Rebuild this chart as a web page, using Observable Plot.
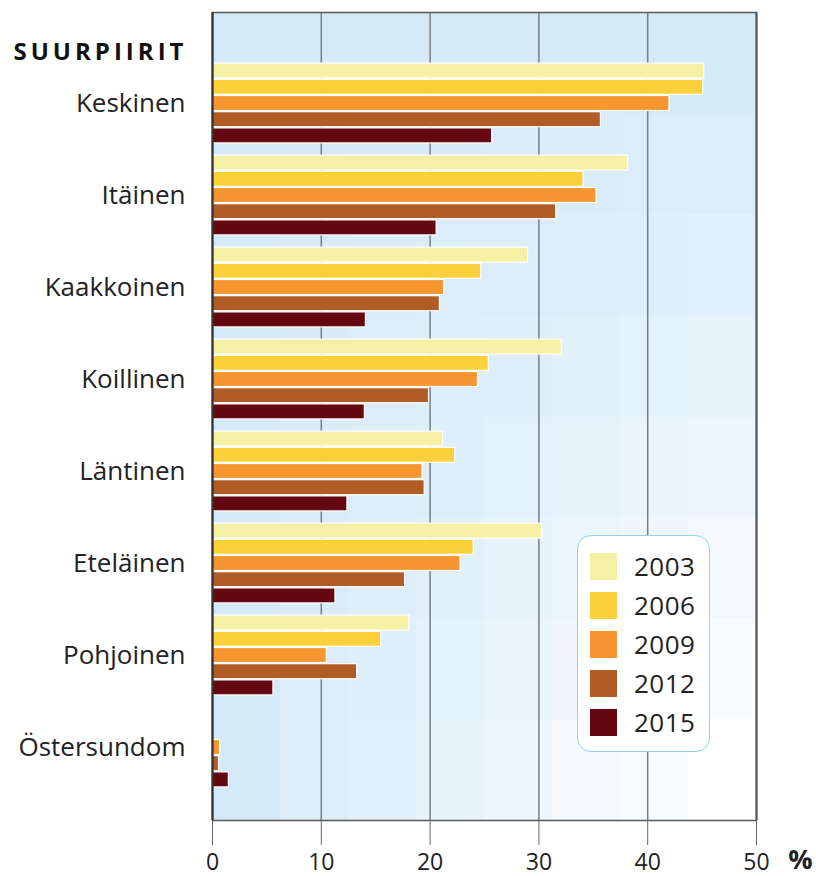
<!DOCTYPE html>
<html>
<head>
<meta charset="utf-8">
<script src="https://cdn.jsdelivr.net/npm/d3@7"></script>
<script src="https://cdn.jsdelivr.net/npm/@observablehq/plot@0.6"></script>
<style>
  html, body { margin: 0; padding: 0; background: #fff; }
  #wrap { position: relative; width: 816px; height: 876px; font-family: "Open Sans", sans-serif; }
  #legend { position: absolute; left: 577px; top: 535px; width: 131px; height: 215px;
    border: 1.5px solid #8fd4ec; border-radius: 14px; background: #fff; }
  .li { position: absolute; left: 12px; height: 28px; }
  .sw { position: absolute; left: 0; top: 0; width: 27px; height: 27px; }
  .lt { position: absolute; left: 44px; top: -3px; font-size: 26px; letter-spacing: 0.5px; color: #222; line-height: 32px; white-space: nowrap; }
</style>
</head>
<body>
<div id="wrap"></div>
<script>
// ---- data ----
const districts = ["Keskinen", "Itäinen", "Kaakkoinen", "Koillinen", "Läntinen", "Eteläinen", "Pohjoinen", "Östersundom"];
const years = ["2003", "2006", "2009", "2012", "2015"];
const v2003 = [45.2, 38.2, 29.0, 32.1, 21.2, 30.3, 18.1, null];
const v2006 = [45.1, 34.1, 24.7, 25.4, 22.3, 24.0, 15.5, null];
const v2009 = [42.0, 35.3, 21.3, 24.4, 19.3, 22.8, 10.5, 0.7];
const v2012 = [35.7, 31.6, 20.9, 19.9, 19.5, 17.7, 13.3, 0.6];
const v2015 = [25.7, 20.6, 14.1, 14.0, 12.4, 11.3, 5.6, 1.5];
const xTicks = [0, 10, 20, 30, 40, 50];
const colors = ["#f5f0a3", "#fad13a", "#f79530", "#b05c24", "#640710"];

const series = [v2003, v2006, v2009, v2012, v2015];
const rows = [];
series.forEach((vals, i) => vals.forEach((v, j) => {
  if (v != null) rows.push({district: districts[j], year: years[i], value: v});
}));

// ---- layout ----
const W = 816, H = 876;
const mTop = 12, mBottom = 56, mLeft = 212, mRight = 60;
const yRange = [57, 793];
const band = (yRange[1] - yRange[0]) / districts.length;
const pitch = 16.2, barH = 15;
const span = pitch * (years.length - 1) + barH;
const off0 = (band - span) / 2;

const bars = years.map((yr, i) => {
  const top = off0 + i * pitch;
  return Plot.barX(rows.filter(d => d.year === yr), {
    x: "value", y: "district", fill: colors[i],
    stroke: "white", strokeWidth: 1.2,
    insetTop: top, insetBottom: band - top - barH
  });
});

const plot = Plot.plot({
  width: W, height: H,
  marginTop: mTop, marginBottom: mBottom, marginLeft: mLeft, marginRight: mRight,
  style: {fontFamily: "'Open Sans', sans-serif", background: "transparent", overflow: "visible"},
  x: {domain: [0, 50], label: null},
  y: {domain: districts, range: yRange, padding: 0, label: null},
  marks: [
    Plot.frame({fill: "#d5eaf8"}),
    Plot.frame({fill: "url(#hg)"}),
    Plot.ruleX(xTicks.filter(t => t > 0 && t < 50), {stroke: "#777d85", strokeWidth: 1.5}),
    ...bars,
    Plot.frame({stroke: "#5a5a5a", strokeWidth: 1.5}),
    Plot.ruleX([0], {stroke: "#333", strokeWidth: 2.2}),
    Plot.ruleX([50], {stroke: "#555", strokeWidth: 2}),
    Plot.axisX({ticks: xTicks, tickSize: 25, tickPadding: 8, fontSize: 23, stroke: "#666", fill: "#222", label: null}),
    Plot.axisY({tickSize: 0, tickPadding: 27, fontSize: 26, fill: "#222", label: null}),
    Plot.text(["SUURPIIRIT"], {frameAnchor: "top-left", dx: -25, dy: 30, textAnchor: "end", fontSize: 24, fontWeight: "bold", fill: "#111", title: null}),
    Plot.text(["%"], {frameAnchor: "bottom-right", dx: 44, dy: 48, textAnchor: "middle", fontSize: 27, fontWeight: "bold", fill: "#222"})
  ]
});

// letter-spaced heading
plot.querySelectorAll("text").forEach(t => {
  if (t.textContent === "SUURPIIRIT") t.setAttribute("letter-spacing", "4");
});

// stepped bilinear background (blue -> white toward bottom-right)
const ns = "http://www.w3.org/2000/svg";
const defs = document.createElementNS(ns, "defs");
const blue = d3.rgb("#d5eaf8"), white = d3.rgb("#ffffff");
const steps = 8;
let hStops = "", vStops = "";
for (let c = 0; c < steps; c++) {
  const col = d3.interpolateRgb(blue, white)(c / (steps - 1));
  const g = Math.round(255 * c / (steps - 1));
  const gc = `rgb(${g},${g},${g})`;
  hStops += `<stop offset="${c / steps}" stop-color="${col}"/><stop offset="${(c + 1) / steps}" stop-color="${col}"/>`;
  vStops += `<stop offset="${c / steps}" stop-color="${gc}"/><stop offset="${(c + 1) / steps}" stop-color="${gc}"/>`;
}
defs.innerHTML = `<linearGradient id="hg" x1="0" y1="0" x2="1" y2="0">${hStops}</linearGradient>
<linearGradient id="vg" x1="0" y1="0" x2="0" y2="1">${vStops}</linearGradient>
<mask id="vm" maskUnits="objectBoundingBox" maskContentUnits="objectBoundingBox" x="0" y="0" width="1" height="1">
<rect x="0" y="0" width="1" height="1" fill="url(#vg)"/></mask>`;
plot.insertBefore(defs, plot.firstChild);
const frames = plot.querySelectorAll('[aria-label="frame"]');
if (frames.length > 1) frames[1].setAttribute("mask", "url(#vm)");

const wrap = document.getElementById("wrap");
wrap.appendChild(plot);

// legend
const legend = document.createElement("div");
legend.id = "legend";
years.forEach((yr, i) => {
  const item = document.createElement("div");
  item.className = "li";
  item.style.top = (17 + i * 39) + "px";
  item.innerHTML = `<div class="sw" style="background:${colors[i]}"></div><div class="lt">${yr}</div>`;
  legend.appendChild(item);
});
wrap.appendChild(legend);
</script>
</body>
</html>
